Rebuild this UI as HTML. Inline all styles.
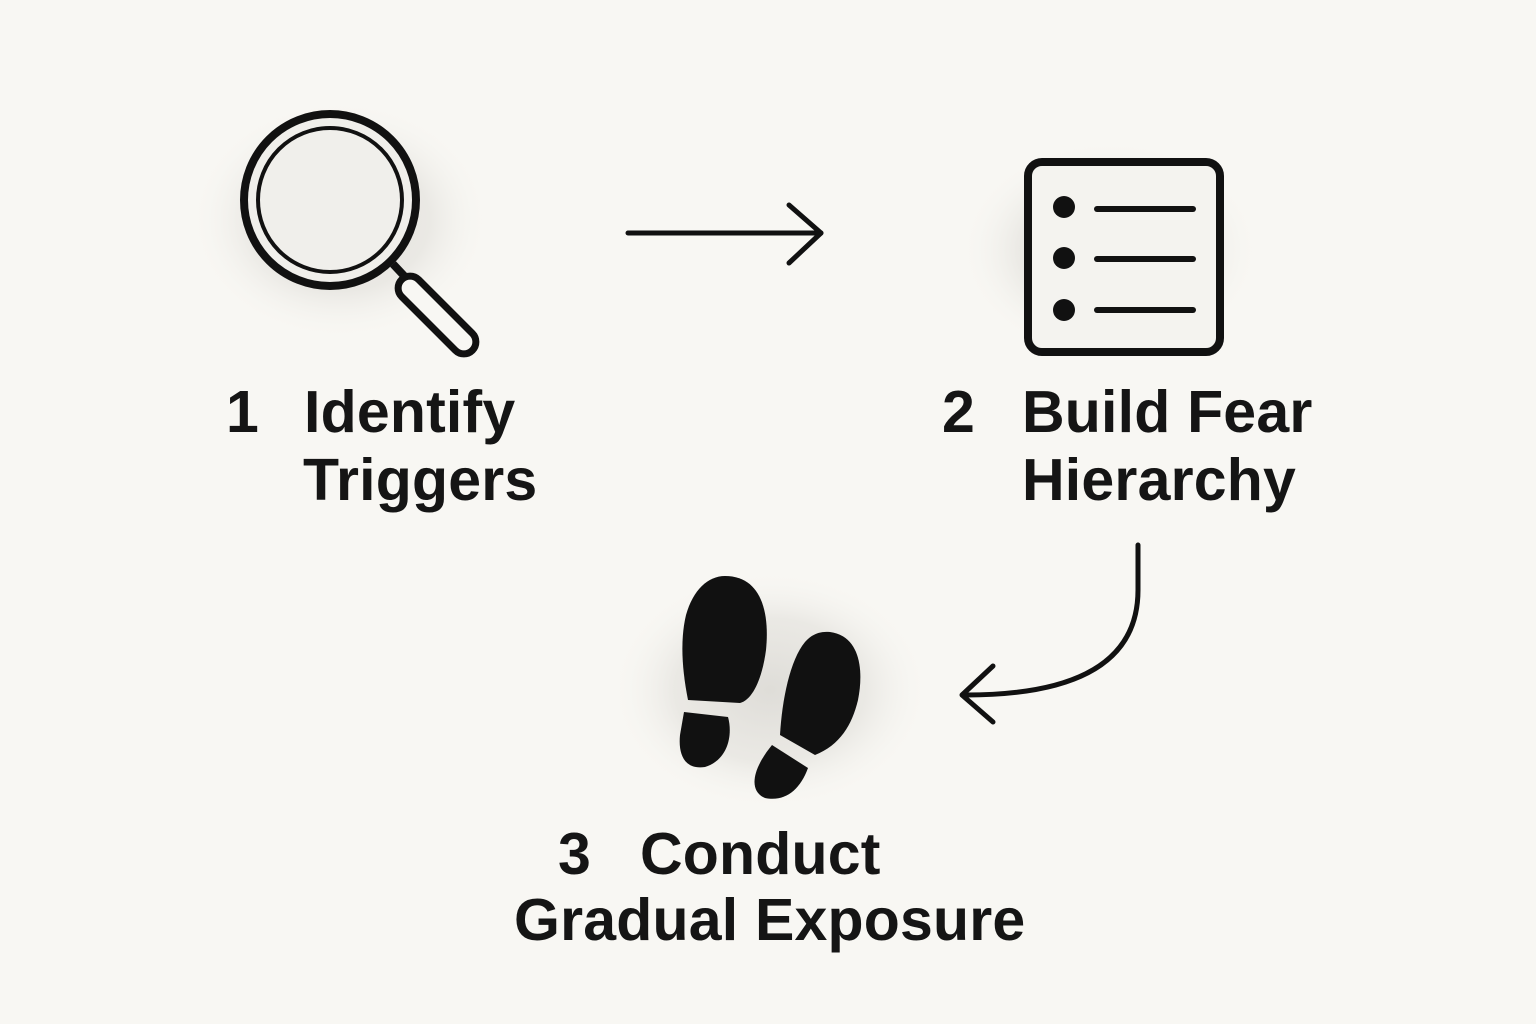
<!DOCTYPE html>
<html><head><meta charset="utf-8"><style>
html,body{margin:0;padding:0;}
body{width:1536px;height:1024px;background:#f8f7f3;position:relative;overflow:hidden;font-family:"Liberation Sans",sans-serif;}
.t{position:absolute;font-weight:bold;font-size:59px;letter-spacing:0.2px;color:#151515;line-height:68px;white-space:pre;}
</style></head><body>
<svg width="1536" height="1024" style="position:absolute;left:0;top:0">
<defs>
<radialGradient id="g"><stop offset="0" stop-color="#d8d6d1" stop-opacity=".8"/><stop offset=".6" stop-color="#dddbd6" stop-opacity=".5"/><stop offset="1" stop-color="#f8f7f3" stop-opacity="0"/></radialGradient>
</defs>
<ellipse cx="340" cy="220" rx="150" ry="120" fill="url(#g)"/>
<ellipse cx="1110" cy="250" rx="150" ry="110" fill="url(#g)"/>
<ellipse cx="770" cy="690" rx="160" ry="120" fill="url(#g)"/>
<circle cx="330" cy="200" r="86" fill="#f0efeb" stroke="#111" stroke-width="8"/>
<circle cx="330" cy="200" r="72" fill="none" stroke="#111" stroke-width="4"/>
<line x1="393" y1="264" x2="408" y2="280" stroke="#111" stroke-width="8"/>
<g transform="translate(437,315) rotate(45)">
<rect x="-50" y="-12" width="100" height="24" rx="12" fill="#f8f7f3" stroke="#111" stroke-width="7"/>
</g>
<rect x="1028" y="162" width="192" height="190" rx="14" fill="#f4f3ef" stroke="#111" stroke-width="8"/>
<g fill="#111"><circle cx="1064" cy="207" r="11"/><circle cx="1064" cy="258" r="11"/><circle cx="1064" cy="310" r="11"/></g>
<g stroke="#111" stroke-width="6" stroke-linecap="round"><line x1="1097" y1="209" x2="1193" y2="209"/><line x1="1097" y1="259" x2="1193" y2="259"/><line x1="1097" y1="310" x2="1193" y2="310"/></g>
<g stroke="#111" stroke-width="5" fill="none" stroke-linecap="round" stroke-linejoin="round">
<line x1="628" y1="233" x2="821" y2="233"/>
<polyline points="789,205 821,233 789,263"/>
<path d="M1138,545 L1138,590 Q1138,695 966,695"/>
<polyline points="993,666 962,695 993,722"/>
</g>
<g fill="#111">
<path d="M725,576 C760,576 770,610 766,650 C762,680 752,700 740,703 L688,700 C682,670 680,640 686,615 C693,590 708,576 725,576 Z"/>
<path d="M684,712 L728,717 C733,735 728,760 705,767 C685,770 678,755 680,735 Z"/>
<path d="M830,632 C860,636 864,670 858,700 C852,725 840,745 815,755 L780,735 C782,700 790,660 805,642 C812,634 820,631 830,632 Z"/>
<path d="M772,745 L808,768 C800,790 785,802 765,798 C750,792 750,772 772,745 Z"/>
</g>
</svg>
<div class="t" style="left:226px;top:378px">1</div>
<div class="t" style="left:304px;top:378px">Identify</div>
<div class="t" style="left:303px;top:446px">Triggers</div>
<div class="t" style="left:942px;top:378px">2</div>
<div class="t" style="left:1022px;top:378px">Build Fear</div>
<div class="t" style="left:1022px;top:446px">Hierarchy</div>
<div class="t" style="left:558px;top:820px">3</div>
<div class="t" style="left:640px;top:820px">Conduct</div>
<div class="t" style="left:514px;top:886px">Gradual Exposure</div>
</body></html>
